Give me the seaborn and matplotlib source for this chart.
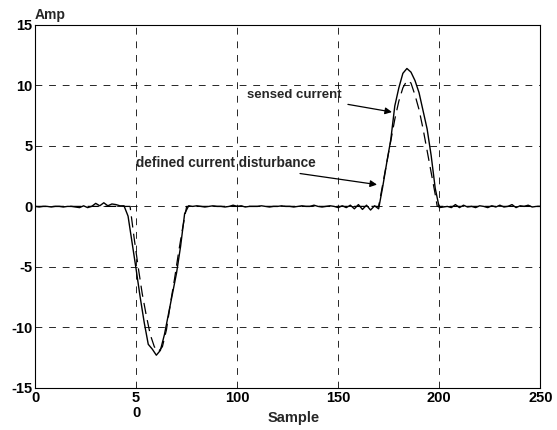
import numpy as np
import pandas as pd
import matplotlib
matplotlib.use("Agg")
import matplotlib.pyplot as plt
import seaborn as sns

# ---- data ----
sensed_sample = list(range(0, 251, 2))
sensed_amp = [
    0.0, -0.05, 0.0, 0.0, -0.05, 0.0, 0.0, -0.05, 0.0, 0.0,
    -0.05, -0.1, 0.05, -0.1, 0.0, 0.25, 0.05, 0.3, 0.05, 0.2,
    0.15, 0.05, 0.05, -0.8, -3.0, -5.2, -7.5, -9.6, -11.4, -11.8,
    -12.3, -11.9, -10.6, -8.9, -7.2, -5.5, -3.3, -0.6, 0.05, 0.0,
    0.05, 0.0, -0.05, 0.0, 0.05, 0.0, 0.0, -0.05, 0.0, 0.1,
    0.0, 0.05, -0.05, 0.0, 0.0, 0.0, 0.05, 0.0, -0.05, 0.0,
    0.0, 0.05, 0.0, 0.0, -0.05, 0.0, 0.05, 0.0, 0.0, 0.1,
    0.0, -0.05, 0.0, 0.05, 0.0, -0.1, 0.05, -0.1, 0.1, -0.2,
    0.15, -0.25, 0.1, -0.3, 0.05, -0.2, 1.6, 3.6, 5.5, 8.3,
    9.8, 11.0, 11.4, 11.1, 10.4, 9.4, 7.9, 6.4, 4.2, 1.5,
    -0.1, -0.05, 0.0, -0.1, 0.15, -0.1, 0.1, -0.05, 0.0, -0.1,
    0.05, 0.0, -0.1, 0.05, -0.05, 0.1, -0.05, 0.0, 0.15, -0.1,
    0.05, 0.0, 0.1, -0.05, 0.0, 0.0,
]

defined_sample = [0, 47, 49, 51, 53, 55, 57, 59, 61, 63, 65, 67, 69, 71, 73, 75,
                  170, 172, 174, 176, 178, 180, 182, 184, 186, 188, 190, 192, 194, 196, 198, 199, 250]
defined_amp = [0, 0, -2.6, -5.0, -7.2, -9.0, -10.6, -11.6, -12.0, -11.6, -10.2, -8.0, -6.0, -3.8, -1.8, 0,
               0, 1.8, 3.6, 5.4, 7.2, 8.7, 9.8, 10.4, 10.2, 9.2, 8.0, 6.4, 4.6, 2.8, 1.0, 0, 0]

x_ticks = [0, 50, 100, 150, 200, 250]
x_tick_labels = ["0", "5\n0", "100", "150", "200", "250"]
y_ticks = [-15, -10, -5, 0, 5, 10, 15]

sensed_df = pd.DataFrame({"Sample": sensed_sample, "Amp": sensed_amp})
defined_df = pd.DataFrame({"Sample": defined_sample, "Amp": defined_amp})

sns.set_theme(style="white")
plt.rcParams["font.family"] = ["Liberation Sans", "DejaVu Sans"]
plt.rcParams["font.weight"] = "bold"

fig = plt.figure(figsize=(5.57, 4.30), dpi=100)
ax = fig.add_axes([0.063, 0.098, 0.907, 0.844])

sns.lineplot(data=sensed_df, x="Sample", y="Amp", ax=ax, color="black",
             linewidth=1.0, estimator=None, sort=False)
sns.lineplot(data=defined_df, x="Sample", y="Amp", ax=ax, color="black",
             linewidth=0.9, estimator=None, sort=False)
ax.lines[-1].set_linestyle((0, (9, 5)))

ax.set_xlim(0, 250)
ax.set_ylim(-15, 15)
ax.set_xticks(x_ticks)
ax.set_xticklabels(x_tick_labels, fontsize=10.5, fontweight="bold", linespacing=1.15)
ax.set_yticks(y_ticks)
ax.set_yticklabels([str(v) for v in y_ticks], fontsize=10.5, fontweight="bold")
ax.tick_params(axis="both", length=0, pad=2, colors="black")

ax.grid(True, color="black", linewidth=0.7, linestyle=(0, (7, 7)), alpha=0.85)
for s in ax.spines.values():
    s.set_visible(True)
    s.set_color("black")
    s.set_linewidth(0.8)

ax.set_xlabel("Sample", fontsize=10.5, fontweight="bold")
ax.xaxis.set_label_coords(0.512, -0.064)
ax.set_ylabel("")
ax.text(0.0, 1.008, "Amp", transform=ax.transAxes, fontsize=10,
        fontweight="bold", ha="left", va="bottom")

ax.annotate("sensed current", xy=(176.6, 7.8), xytext=(105, 9.2),
            fontsize=9.5, fontweight="bold", ha="left", va="center",
            arrowprops=dict(arrowstyle="-|>", color="black", lw=0.9,
                            mutation_scale=10, shrinkA=2, shrinkB=0))
ax.annotate("defined current disturbance", xy=(169.2, 1.8), xytext=(50, 3.6),
            fontsize=9.8, fontweight="bold", ha="left", va="center",
            arrowprops=dict(arrowstyle="-|>", color="black", lw=0.9,
                            mutation_scale=10, shrinkA=2, shrinkB=0))

fig.savefig("out.png", dpi=100)
